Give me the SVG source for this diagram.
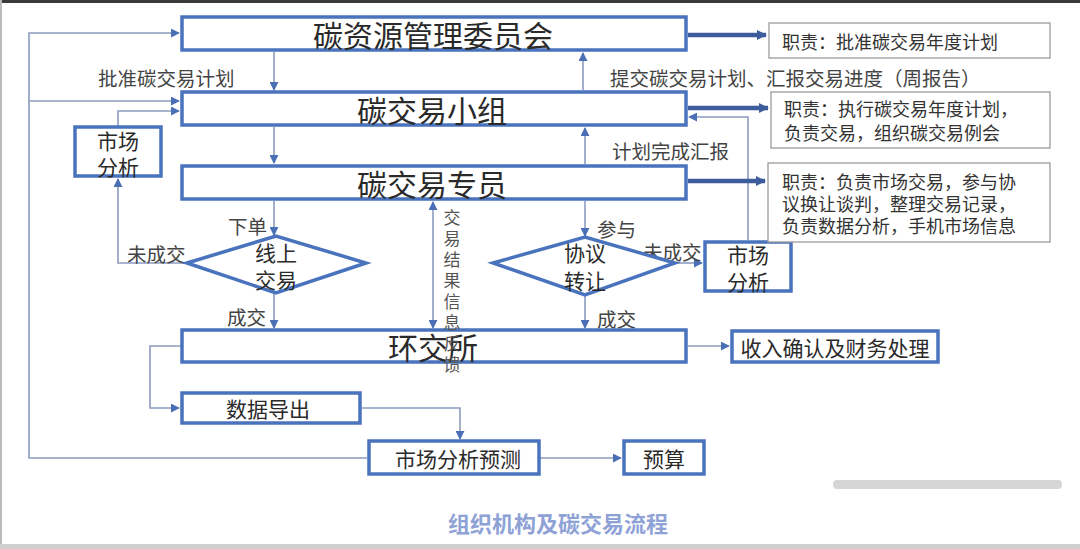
<svg xmlns="http://www.w3.org/2000/svg" width="1080" height="549" viewBox="0 0 1080 549">
<defs>
<marker id="ah" viewBox="0 0 10 10" refX="9" refY="5" markerWidth="9" markerHeight="9" markerUnits="userSpaceOnUse" orient="auto-start-reverse">
<path d="M0,0 L10,5 L0,10 z" fill="#4a6fb5"/>
</marker>
<marker id="ahb" viewBox="0 0 10 10" refX="9" refY="5" markerWidth="10" markerHeight="10" markerUnits="userSpaceOnUse" orient="auto">
<path d="M0,0 L10,5 L0,10 z" fill="#3d5c9c"/>
</marker>
<style>
text{font-family:"Noto Sans CJK SC","Noto Sans",sans-serif;fill:#2a2a2a}
.box{fill:#fff;stroke:#4a73bd;stroke-width:3.5}
.desc{fill:#fff;stroke:#9a9a9a;stroke-width:1.3}
.c{fill:none;stroke:#8c9cc0;stroke-width:1.6}
.thick{fill:none;stroke:#3d5c9c;stroke-width:4.5}
.big{font-size:30px;text-anchor:middle;dominant-baseline:central}
.mid{font-size:21px;text-anchor:middle;dominant-baseline:central}
.lbl{font-size:19.5px;fill:#444;dominant-baseline:central}
.d{font-size:18px;fill:#333;dominant-baseline:central}
</style>
</defs>
<rect width="1080" height="549" fill="#fff"/>
<rect x="0" y="0" width="1080" height="3" fill="#3a3a3a"/>
<rect x="0" y="0" width="2" height="549" fill="#bbb"/>
<rect x="0" y="544" width="1080" height="5" fill="#cfcfcf"/>
<rect x="833" y="480" width="229" height="9" rx="4" fill="#d6d6d6"/>

<g id="connectors">
<path class="c" d="M274,52 V90" marker-end="url(#ah)"/>
<path class="c" d="M583,90 V53" marker-end="url(#ah)"/>
<path class="c" d="M274,127 V163" marker-end="url(#ah)"/>
<path class="c" d="M585,164 V128" marker-end="url(#ah)"/>
<path class="c" d="M367,458 H29 V33 H179" marker-end="url(#ah)"/>
<path class="c" d="M29,101 H179" marker-end="url(#ah)"/>
<path class="c" d="M118,127 V111 H179" marker-end="url(#ah)"/>
<path class="c" d="M187,263 H118 V179" marker-end="url(#ah)"/>
<path class="c" d="M274,201 V235" marker-end="url(#ah)"/>
<path class="c" d="M274,293 V328" marker-end="url(#ah)"/>
<path class="c" d="M585,201 V236" marker-end="url(#ah)"/>
<path class="c" d="M675,263 H702" marker-end="url(#ah)"/>
<path class="c" d="M585,295 V328" marker-end="url(#ah)"/>
<path class="c" d="M748,240 V117 H689" marker-end="url(#ah)"/>
<path class="c" d="M433,202 V328" marker-start="url(#ah)" marker-end="url(#ah)"/>
<path class="c" d="M688,346 H729" marker-end="url(#ah)"/>
<path class="c" d="M181,346 H150 V408 H179" marker-end="url(#ah)"/>
<path class="c" d="M362,408 H460 V439" marker-end="url(#ah)"/>
<path class="c" d="M540,458 H621" marker-end="url(#ah)"/>
<path class="thick" d="M688,35 H766" marker-end="url(#ahb)"/>
<path class="thick" d="M688,108 H768" marker-end="url(#ahb)"/>
<path class="thick" d="M688,181 H765" marker-end="url(#ahb)"/>
<text class="lbl" x="98" y="77">批准碳交易计划</text>
<text class="lbl" x="610" y="77">提交碳交易计划、汇报交易进度（周报告）</text>
<text class="lbl" x="612" y="150">计划完成汇报</text>
<text class="lbl" x="228" y="225">下单</text>
<text class="lbl" x="127" y="253">未成交</text>
<text class="lbl" x="227" y="316">成交</text>
<text class="lbl" x="597" y="228">参与</text>
<text class="lbl" x="643" y="251">未成交</text>
<text class="lbl" x="597" y="318">成交</text>
</g>

<g id="n-committee">
<rect class="box" x="182" y="17" width="504" height="33"/>
<text class="big" x="433" y="34">碳资源管理委员会</text>
</g>
<g id="n-group">
<rect class="box" x="182" y="92" width="504" height="33"/>
<text class="big" x="432" y="109">碳交易小组</text>
</g>
<g id="n-specialist">
<rect class="box" x="182" y="166" width="504" height="33"/>
<text class="big" x="432" y="183">碳交易专员</text>
</g>
<g id="n-market-left">
<rect class="box" x="75" y="127" width="86" height="49"/>
<text class="mid" x="118" y="140">市场<tspan x="118" dy="26">分析</tspan></text>
</g>
<g id="n-online">
<polygon class="box" points="187,263 276,236 366,263 276,293"/>
<text class="mid" x="276" y="252">线上<tspan x="276" dy="27">交易</tspan></text>
</g>
<g id="n-agreement">
<polygon class="box" points="493,263 585,237 675,263 585,295"/>
<text class="mid" x="585" y="252">协议<tspan x="585" dy="28">转让</tspan></text>
</g>
<g id="n-market-right">
<rect class="box" x="705" y="242" width="86" height="49"/>
<text class="mid" x="748" y="254">市场<tspan x="748" dy="27">分析</tspan></text>
</g>
<g id="n-exchange">
<rect class="box" x="182" y="330" width="504" height="32"/>
<text class="big" x="433" y="346">环交所</text>
</g>
<g id="n-feedback">
<text x="452" y="209" font-size="17" writing-mode="vertical-rl" letter-spacing="4" style="fill:#555">交易结果信息反馈</text>
</g>
<g id="n-income">
<rect class="box" x="732" y="331" width="206" height="31"/>
<text class="mid" x="835" y="347" font-size="20">收入确认及财务处理</text>
</g>
<g id="n-export">
<rect class="box" x="182" y="393" width="178" height="30"/>
<text class="mid" x="268" y="408">数据导出</text>
</g>
<g id="n-forecast">
<rect class="box" x="369" y="441" width="170" height="33"/>
<text class="mid" x="458" y="458" font-size="22">市场分析预测</text>
</g>
<g id="n-budget">
<rect class="box" x="624" y="441" width="80" height="33"/>
<text class="mid" x="664" y="458" font-size="22">预算</text>
</g>
<g id="n-desc1">
<rect class="desc" x="769" y="23" width="281" height="35"/>
<text class="d" x="782" y="41" font-size="20">职责：批准碳交易年度计划</text>
</g>
<g id="n-desc2">
<rect class="desc" x="771" y="92" width="279" height="56"/>
<text class="d" x="784" y="108">职责：执行碳交易年度计划，<tspan x="784" dy="24">负责交易，组织碳交易例会</tspan></text>
</g>
<g id="n-desc3">
<rect class="desc" x="768" y="163" width="282" height="79"/>
<text class="d" x="782" y="181" font-size="18.5">职责：负责市场交易，参与协<tspan x="782" dy="22">议换让谈判，整理交易记录，</tspan><tspan x="782" dy="22">负责数据分析，手机市场信息</tspan></text>
</g>
<text x="558" y="522" font-size="22" font-weight="bold" text-anchor="middle" dominant-baseline="central" style="fill:#8ea2d6">组织机构及碳交易流程</text>
</svg>
